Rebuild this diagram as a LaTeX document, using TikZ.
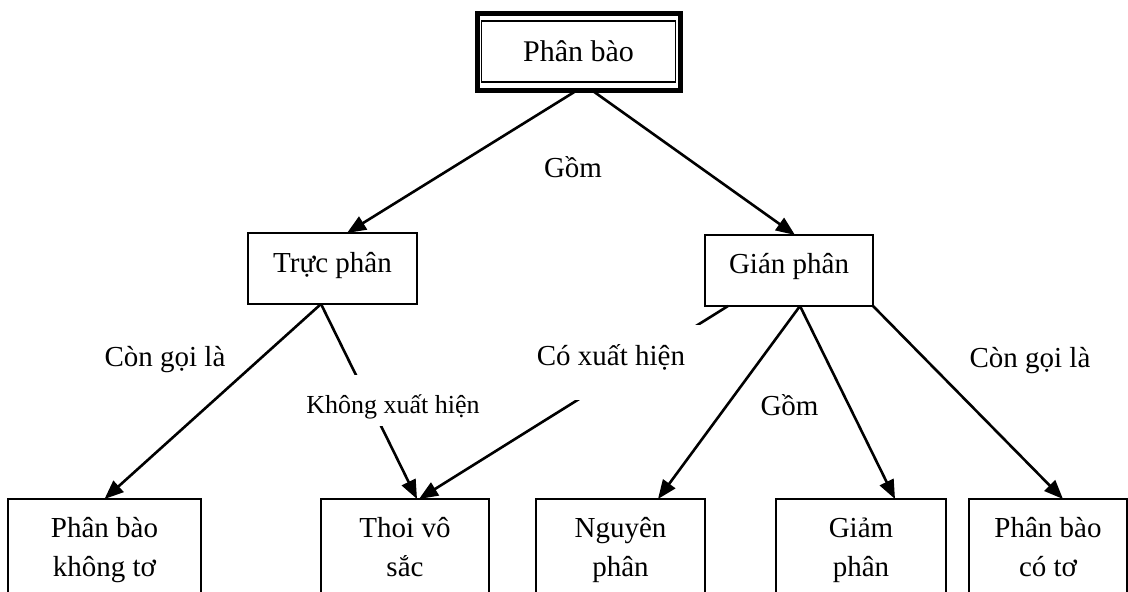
\documentclass[tikz,border=0pt]{standalone}
\usepackage{fontspec}
\setmainfont{Liberation Serif}
\usepackage{tikz}
\usetikzlibrary{arrows.meta}

\newcommand\mainsz{\fontsize{29}{39}\selectfont}
\newcommand\smallsz{\fontsize{26}{30}\selectfont}

\begin{document}
\begin{tikzpicture}[x=1pt,y=-1pt,font=\mainsz]
			\useasboundingbox (0,0) rectangle (1128,592);
			\clip (0,0) rectangle (1128,592);

			\begin{scope}[every node/.style={draw,line width=2pt,inner sep=0pt,outer sep=0pt,align=center}]
				\node[line width=5pt,minimum width=203pt,minimum height=77pt,font=\fontsize{30}{39}\selectfont] (PB) at (578.5,51.5) {Phân bào};
				\node[minimum width=169pt,text height=39pt,text depth=32pt] (TP) at (332.5,268.5) {Trực phân};
				\node[minimum width=168pt,text height=38pt,text depth=33pt] (GP) at (789,270.5) {Gián phân};
				\node[anchor=north,minimum width=193pt,text height=77pt,text depth=36pt] (KT) at (104.5,499) {Phân bào\\không tơ};
				\node[anchor=north,minimum width=168pt,text height=77pt,text depth=36pt] (TVS) at (405,499) {Thoi vô\\sắc};
				\node[anchor=north,minimum width=169pt,text height=77pt,text depth=36pt] (NP) at (620.5,499) {Nguyên\\phân};
				\node[anchor=north,minimum width=170pt,text height=77pt,text depth=36pt] (GiP) at (861,499) {Giảm\\phân};
				\node[anchor=north,minimum width=158pt,text height=77pt,text depth=36pt] (CT) at (1048,499) {Phân bào\\có tơ};
			\end{scope}
			\draw[line width=1.5pt] ([shift={(4.5pt,-8pt)}]PB.north west) rectangle ([shift={(-4.5pt,8pt)}]PB.south east);

			\begin{scope}[>={Triangle[length=19pt,width=15pt]},
				every edge/.style={draw,line width=2.6pt}]
				\path ([xshift=-1pt]PB.south) edge[->] ([xshift=14.5pt]TP.north);
				\path ([xshift=13pt]PB.south) edge[->] ([xshift=6pt]GP.north);
				\path ([xshift=-11.5pt]TP.south) edge[->] (KT.north);
				\path ([xshift=-11.5pt]TP.south) edge[->] ([xshift=12pt]TVS.north);
				\path ([xshift=-61pt]GP.south) edge[->] ([xshift=14pt]TVS.north);
				\path ([xshift=11pt]GP.south) edge[->] ([xshift=37.5pt]NP.north);
				\path ([xshift=11pt]GP.south) edge[->] ([xshift=34pt]GiP.north);
				\path (GP.south east) edge[->] ([xshift=15pt]CT.north);
			\end{scope}

			\node[anchor=base] (gom) at (573,177) {Gồm};
			\node[anchor=base] (goila) at (165,366) {Còn gọi là};
			\node[anchor=base,fill=white,font=\smallsz,text height=38pt,text depth=13pt,inner ysep=0pt,inner xsep=6pt] (khong) at (393,413) {Không xuất hiện};
			\node[anchor=base,fill=white,text height=40pt,text depth=35pt,inner ysep=0pt,inner xsep=16pt] (co) at (611,365) {Có xuất hiện};
			\node[anchor=base] (gomgp) at (789.5,415) {Gồm};
			\node[anchor=base] (goilagp) at (1030,367) {Còn gọi là};
		\end{tikzpicture}
\end{document}
